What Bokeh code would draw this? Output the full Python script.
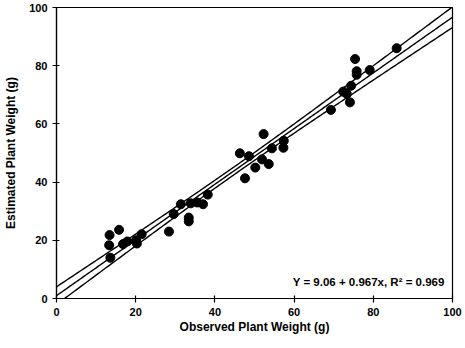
import numpy as np
from bokeh.plotting import figure
from bokeh.models import Label, Range1d, FixedTicker
from bokeh.embed import file_html
from bokeh.resources import INLINE

# Observed vs. estimated plant weight (g)
observed = [13.4, 13.3, 13.6, 15.8, 16.8, 17.9, 20.1, 20.3, 21.5, 28.4,
            29.6, 31.4, 33.4, 33.4, 33.9, 35.5, 37.0, 38.2, 46.3, 47.6,
            48.6, 50.2, 51.9, 52.3, 53.6, 54.4, 57.3, 57.4, 69.3, 72.4,
            73.3, 74.1, 74.4, 75.4, 75.8, 75.8, 79.1, 85.9]
estimated = [21.8, 18.3, 14.0, 23.6, 18.7, 19.6, 20.0, 18.9, 22.1, 23.0,
             29.0, 32.4, 27.8, 26.5, 32.7, 33.0, 32.4, 35.7, 49.9, 41.3,
             48.9, 45.0, 47.8, 56.5, 46.2, 51.6, 51.8, 54.2, 64.8, 71.1,
             70.3, 67.4, 73.1, 82.3, 78.1, 76.9, 78.5, 86.0]

x_ticks = [0, 20, 40, 60, 80, 100]
y_ticks = [0, 20, 40, 60, 80, 100]
equation_text = "Y = 9.06 + 0.967x, R\u00b2 = 0.969"

# Least-squares line with 95% confidence band
x = np.array(observed)
y = np.array(estimated)
n = len(x)
slope, intercept = np.polyfit(x, y, 1)
resid = y - (intercept + slope * x)
s = np.sqrt(np.sum(resid ** 2) / (n - 2))
xbar = x.mean()
sxx = np.sum((x - xbar) ** 2)
t_crit = 2.028
xs = np.linspace(-5, 105, 221)
fit = intercept + slope * xs
half = t_crit * s * np.sqrt(1.0 / n + (xs - xbar) ** 2 / sxx)

p = figure(width=465, height=348, output_backend="svg", toolbar_location=None,
           x_range=Range1d(0, 100), y_range=Range1d(0, 100),
           min_border_left=56, min_border_right=13,
           min_border_top=7, min_border_bottom=50)
p.background_fill_color = "white"
p.border_fill_color = "white"
p.outline_line_color = "black"
p.outline_line_width = 1.2
p.xgrid.visible = False
p.ygrid.visible = False

for yy in (fit + half, fit, fit - half):
    p.line(xs, yy, line_color="black", line_width=1.4)

p.scatter(observed, estimated, size=9, fill_color="black", line_color="black")

font = "Liberation Sans"
for ax in (p.xaxis[0], p.yaxis[0]):
    ax.axis_line_color = "black"
    ax.axis_line_width = 1.2
    ax.major_tick_line_color = "black"
    ax.major_tick_line_width = 1.2
    ax.major_tick_in = 3
    ax.major_tick_out = 4
    ax.minor_tick_line_color = None
    ax.major_label_text_font = font
    ax.major_label_text_font_style = "bold"
    ax.major_label_text_font_size = "11px"
    ax.major_label_text_color = "black"
    ax.axis_label_text_font = font
    ax.axis_label_text_font_style = "bold"
    ax.axis_label_text_font_size = "12px"
    ax.axis_label_text_color = "black"

p.xaxis.ticker = FixedTicker(ticks=x_ticks)
p.yaxis.ticker = FixedTicker(ticks=y_ticks)
p.xaxis.axis_label = "Observed Plant Weight (g)"
p.yaxis.axis_label = "Estimated Plant Weight (g)"
p.xaxis.major_label_standoff = 5
p.yaxis.major_label_standoff = 5
p.xaxis.axis_label_standoff = 1
p.yaxis.axis_label_standoff = 8

p.add_layout(Label(x=98, y=5.5, text=equation_text, text_align="right",
                   text_baseline="middle", text_font=font,
                   text_font_style="bold", text_font_size="11.5px",
                   text_color="black"))

open("out.html", "w").write(file_html(p, INLINE))
